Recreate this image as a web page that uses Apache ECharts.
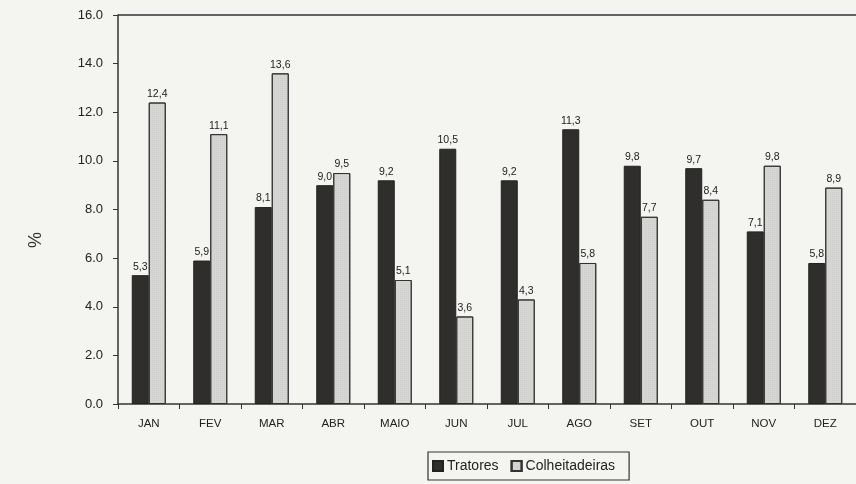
<!DOCTYPE html>
<html><head><meta charset="utf-8">
<script src="https://cdn.jsdelivr.net/npm/echarts@6/dist/echarts.min.js"></script>
<style>html,body{margin:0;padding:0;background:#f4f4f1;}#c{width:856px;height:484px;}</style>
</head><body><div id="c"></div>
<script>
const categories = ['JAN','FEV','MAR','ABR','MAIO','JUN','JUL','AGO','SET','OUT','NOV','DEZ'];
const tratores = [5.3,5.9,8.1,9.0,9.2,10.5,9.2,11.3,9.8,9.7,7.1,5.8];
const colheitadeiras = [12.4,11.1,13.6,9.5,5.1,3.6,4.3,5.8,7.7,8.4,9.8,8.9];
const seriesNames = ['Tratores','Colheitadeiras'];
const yTicks = {min:0,max:16,interval:2};

const chart = echarts.init(document.getElementById('c'));
const fmt = p => p.value.toFixed(1).replace('.', ',');
const lbl = {show:true,position:'top',distance:3,formatter:fmt,fontFamily:'Liberation Sans, Arial, sans-serif',fontSize:10.5,color:'#222'};
chart.setOption({
  backgroundColor:'#f4f4f1',
  animation:false,
  grid:{left:118,right:0,top:15,bottom:80},
  legend:{
    data:[{name:seriesNames[0],icon:'rect'},{name:seriesNames[1],icon:'rect'}],
    left:428,top:452,itemWidth:10,itemHeight:10,itemGap:12,
    borderColor:'#333',borderWidth:1.2,padding:[7,14,7,4],
    textStyle:{fontFamily:'Liberation Sans, Arial, sans-serif',fontSize:14,color:'#222',padding:[0,0,0,-1]}
  },
  xAxis:{type:'category',data:categories,
    axisLine:{lineStyle:{color:'#333',width:1.5}},
    axisTick:{show:true,length:5,lineStyle:{color:'#333'}},
    axisLabel:{fontFamily:'Liberation Sans, Arial, sans-serif',fontSize:11.5,color:'#222',margin:14}
  },
  yAxis:{type:'value',min:yTicks.min,max:yTicks.max,interval:yTicks.interval,
    axisLine:{show:true,lineStyle:{color:'#333',width:1.5}},
    axisTick:{show:true,length:5,lineStyle:{color:'#333'}},
    splitLine:{show:false},
    axisLabel:{formatter:v=>v.toFixed(1),fontFamily:'Liberation Sans, Arial, sans-serif',fontSize:13,color:'#222',margin:15}
  },
  graphic:[
    {type:'line',shape:{x1:118,y1:15,x2:856,y2:15},style:{stroke:'#333',lineWidth:1.5}},
    {type:'text',x:36,y:240,rotation:Math.PI/2,style:{text:'%',fontFamily:'Liberation Sans, Arial, sans-serif',fontSize:18,fill:'#333',textAlign:'center',textVerticalAlign:'middle'}}
  ],
  series:[
    {name:seriesNames[0],type:'bar',data:tratores,barWidth:17,barGap:'0%',
     itemStyle:{color:'#302d2d',borderColor:'#222',borderWidth:1},label:lbl},
    {name:seriesNames[1],type:'bar',data:colheitadeiras,barWidth:17,
     itemStyle:{color:'#d6d6d4',borderColor:'#333',borderWidth:1,
       decal:{symbol:'rect',symbolSize:0.5,dashArrayX:[1,1],dashArrayY:[1,1],color:'rgba(120,120,120,0.35)',rotation:0}},
     label:lbl}
  ]
});
</script></body></html>
